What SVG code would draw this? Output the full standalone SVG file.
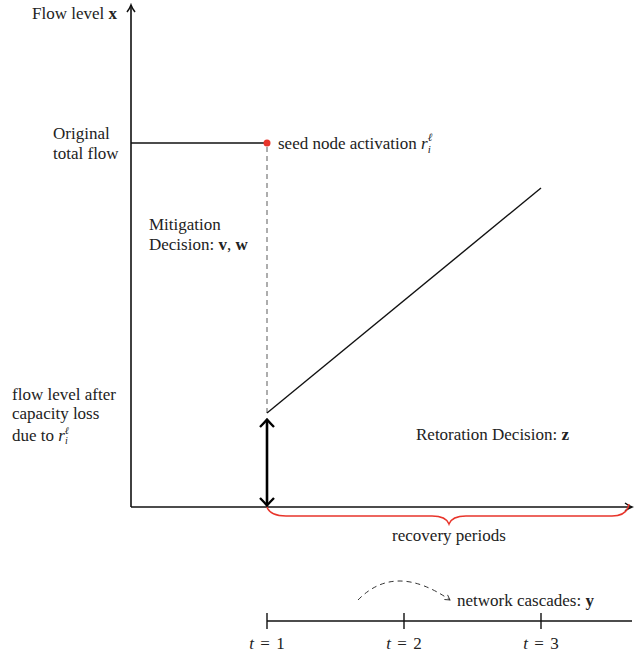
<svg xmlns="http://www.w3.org/2000/svg" width="640" height="660" viewBox="0 0 640 660">
<style>
text{font-family:"Liberation Serif","DejaVu Serif",serif;font-size:17px;fill:#222}
.b{font-weight:bold}
.i{font-style:italic}
.ax{stroke:#111;stroke-width:1.6;fill:none}
.ln{stroke:#111;stroke-width:1.4;fill:none}
</style>
<defs>
<marker id="chev" viewBox="0 0 10 10" refX="8" refY="5" markerWidth="10" markerHeight="10" markerUnits="userSpaceOnUse" orient="auto">
<path d="M1,1 Q5,4 8,5 Q5,6 1,9" fill="none" stroke="#111" stroke-width="1.5"/>
</marker>
<marker id="chevb" viewBox="0 0 10 16" refX="8" refY="8" markerWidth="10" markerHeight="16" markerUnits="userSpaceOnUse" orient="auto-start-reverse">
<path d="M1,1 Q5,5 8.5,8 Q5,11 1,15" fill="none" stroke="#000" stroke-width="2.4"/>
</marker>
<marker id="sm" viewBox="0 0 10 10" refX="8" refY="5" markerWidth="7" markerHeight="7" markerUnits="userSpaceOnUse" orient="auto">
<path d="M1,1 L8,5 L1,9" fill="none" stroke="#333" stroke-width="1.3"/>
</marker>
</defs>
<g id="connectors">
<line class="ax" x1="131" y1="507" x2="131" y2="5" marker-end="url(#chev)"/>
<line class="ax" x1="131" y1="507" x2="632" y2="507" marker-end="url(#chev)"/>
<line class="ln" x1="131" y1="143" x2="267" y2="143"/>
<line x1="267" y1="147" x2="267" y2="413" stroke="#777" stroke-width="1.2" stroke-dasharray="5,4"/>
<line class="ln" x1="267" y1="413" x2="541" y2="188"/>
<line x1="267" y1="420" x2="267" y2="505" stroke="#000" stroke-width="2.6" marker-start="url(#chevb)" marker-end="url(#chevb)"/>
<path d="M267,507 Q270,516 286,516 L432,516 Q446,516 449,524 Q452,516 466,516 L612,516 Q627,516 629,504" fill="none" stroke="#e8352b" stroke-width="1.5"/>
<line class="ln" x1="267" y1="621" x2="632" y2="621"/>
<line class="ln" x1="267" y1="613" x2="267" y2="629" stroke-width="1"/>
<line class="ln" x1="404" y1="613" x2="404" y2="629" stroke-width="1"/>
<line class="ln" x1="541" y1="613" x2="541" y2="629" stroke-width="1"/>
<path d="M358,600 Q395,562 450,600" fill="none" stroke="#333" stroke-width="1" stroke-dasharray="5,4" marker-end="url(#sm)"/>
</g>
<g id="seed"><circle cx="267" cy="143" r="3.5" fill="#e8352b"/>
<text x="278" y="149">seed node activation <tspan class="i">r</tspan><tspan class="i" font-size="11" dy="4">i</tspan><tspan class="i" font-size="11" dx="-3" dy="-12">ℓ</tspan></text></g>
<g id="ylabel"><text x="117" y="19" text-anchor="end">Flow level <tspan class="b">x</tspan></text></g>
<g id="orig"><text x="53" y="139">Original</text><text x="53" y="159">total flow</text></g>
<g id="mitigation"><text x="149" y="230">Mitigation</text><text x="149" y="250">Decision:  <tspan class="b">v</tspan>, <tspan class="b">w</tspan></text></g>
<g id="after"><text x="12" y="400">flow level after</text><text x="12" y="419">capacity loss</text><text x="12" y="441">due to <tspan class="i">r</tspan><tspan class="i" font-size="10" dy="3">i</tspan><tspan class="i" font-size="10" dx="-3" dy="-10">ℓ</tspan></text></g>
<g id="restoration"><text x="416" y="440">Retoration Decision:  <tspan class="b">z</tspan></text></g>
<g id="recovery"><text x="449" y="541" text-anchor="middle">recovery periods</text></g>
<g id="cascades"><text x="457" y="606">network cascades:  <tspan class="b">y</tspan></text></g>
<g id="ticks">
<text x="267" y="649" text-anchor="middle" xml:space="preserve"><tspan class="i">t</tspan> <tspan dx="2">=</tspan> <tspan dx="2">1</tspan></text>
<text x="404" y="649" text-anchor="middle" xml:space="preserve"><tspan class="i">t</tspan> <tspan dx="2">=</tspan> <tspan dx="2">2</tspan></text>
<text x="541" y="649" text-anchor="middle" xml:space="preserve"><tspan class="i">t</tspan> <tspan dx="2">=</tspan> <tspan dx="2">3</tspan></text>
</g>
</svg>
